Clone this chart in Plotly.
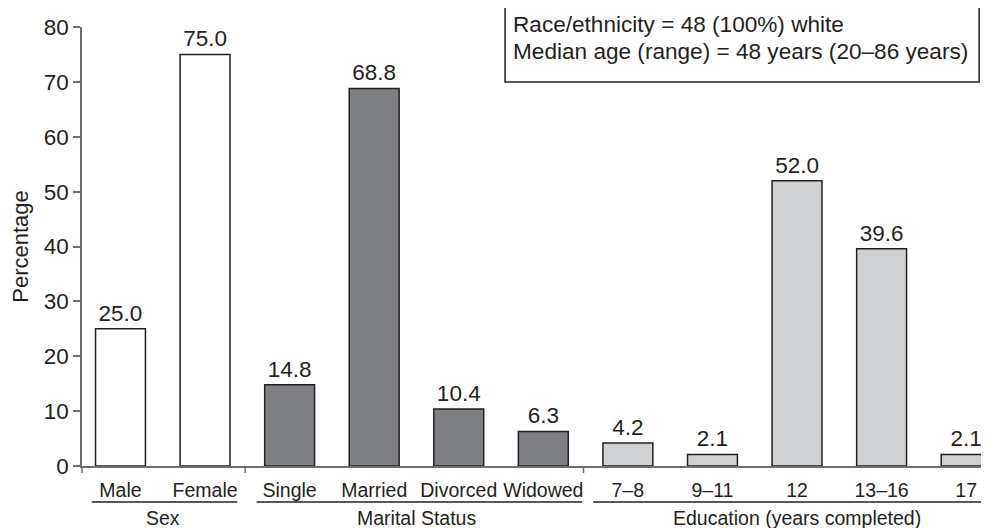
import plotly.graph_objects as go

# ---------------- data ----------------
categories = ["Male", "Female", "Single", "Married", "Divorced", "Widowed",
              "7–8", "9–11", "12", "13–16", "17"]
values = [25.0, 75.0, 14.8, 68.8, 10.4, 6.3, 4.2, 2.1, 52.0, 39.6, 2.1]
groups = ["Sex", "Marital Status", "Education (years completed)"]
group_sizes = [2, 4, 5]
y_ticks = [0, 10, 20, 30, 40, 50, 60, 70, 80]
note_lines = ["Race/ethnicity = 48 (100%) white",
              "Median age (range) = 48 years (20–86 years)"]

# ---------------- styles / layout ----------------
INK = "#231f20"
AXIS = "#6d6e71"
group_fills = ["#ffffff", "#7f8084", "#d0d1d3"]
FONT = "Liberation Sans, Arial, Helvetica, sans-serif"
X_RANGE = [-0.455, 10.27]
PLOT_H = 439
underline_pad = [(-0.34, 0.38), (-0.39, 0.46), (-0.41, None)]

colors = []
for fill, n in zip(group_fills, group_sizes):
    colors += [fill] * n

fig = go.Figure()
fig.add_trace(go.Bar(
    x=categories, y=values,
    marker=dict(color=colors, line=dict(color=INK, width=1.5)),
    width=0.59,
    text=[f"{v:.1f}" for v in values],
    textposition="outside",
    textfont=dict(size=22.5, color=INK, family=FONT),
    constraintext="none",
    cliponaxis=False,
    showlegend=False,
    hoverinfo="skip",
))

shapes = []
annotations = []
px = 1.0 / PLOT_H  # one pixel in paper units (vertical)

# left tick below the origin
shapes.append(dict(type="line", xref="paper", yref="paper", x0=0, x1=0,
                   y0=0, y1=-7 * px, line=dict(color=AXIS, width=1.5)))

start = 0
for gi, (name, n) in enumerate(zip(groups, group_sizes)):
    end = start + n - 1
    if gi < len(groups) - 1:
        xs = end + 0.475
        shapes.append(dict(type="line", xref="x", yref="paper", x0=xs, x1=xs,
                           y0=0, y1=-7 * px, line=dict(color=AXIS, width=1.5)))
    lo, hi = underline_pad[gi]
    x0 = start + lo
    x1 = end + hi if hi is not None else X_RANGE[1]
    shapes.append(dict(type="line", xref="x", yref="paper", x0=x0, x1=x1,
                       y0=-36 * px, y1=-36 * px,
                       line=dict(color=INK, width=1.5)))
    annotations.append(dict(text=name, xref="x", yref="paper",
                            x=(start + end) / 2, y=-52 * px,
                            xanchor="center", yanchor="middle", showarrow=False,
                            font=dict(size=19.5, color=INK, family=FONT)))
    start = end + 1

# note box
bx0 = (505 - 120.5) / 84.55
bx1 = (979 - 120.5) / 84.55
shapes.append(dict(type="rect", xref="x", yref="paper", x0=bx0, x1=bx1,
                   y0=(466 - 82) * px, y1=(466 - 4) * px,
                   line=dict(color=INK, width=1.5), fillcolor="white"))
for i, line in enumerate(note_lines):
    yc = [24, 51][i]
    annotations.append(dict(text=line, xref="x", yref="paper",
                            x=(511 - 120.5) / 84.55, y=(466 - yc) * px,
                            xanchor="left", yanchor="middle", showarrow=False,
                            font=dict(size=22.6, color=INK, family=FONT)))

fig.update_layout(
    width=981, height=520,
    margin=dict(l=74, r=0, t=19, b=62, pad=0),
    plot_bgcolor="white", paper_bgcolor="white",
    font=dict(family=FONT, color=INK, size=22),
    shapes=shapes, annotations=annotations,
    xaxis=dict(type="category", range=X_RANGE, showline=True, linecolor=AXIS,
               linewidth=1.5, ticks="", showgrid=False, zeroline=False,
               tickfont=dict(size=19.5, color=INK, family=FONT),
               ticklabelstandoff=6, automargin=False, fixedrange=True),
    yaxis=dict(range=[0, 80], tickvals=y_ticks, showline=True, linecolor=AXIS,
               linewidth=1.5, ticks="outside", ticklen=7, tickcolor=AXIS,
               tickwidth=1.5, showgrid=False, zeroline=False,
               tickfont=dict(size=22.5, color=INK, family=FONT),
               title=dict(text="Percentage", font=dict(size=22, color=INK, family=FONT),
                          standoff=10),
               automargin=False, fixedrange=True),
)

fig.write_html("out.html")
